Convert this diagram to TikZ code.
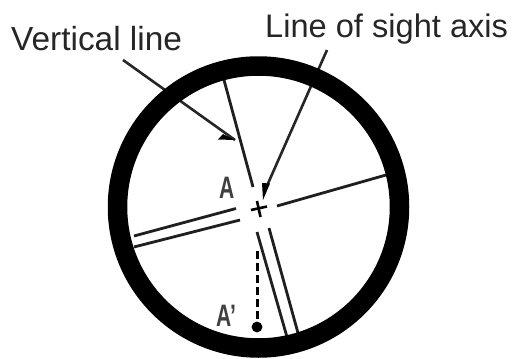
\documentclass[tikz,border=0pt]{standalone}
\usepackage{fontspec}
\setmainfont{Liberation Sans}
\begin{document}
\begin{tikzpicture}[x=1pt,y=-1pt,
  thinline/.style={line width=2.8pt,black!88},
  lbl/.style={inner sep=0pt,anchor=base west,font=\fontsize{33.4}{36}\selectfont,black!85},
  lbltwo/.style={inner sep=0pt,anchor=base west,font=\fontsize{32.6}{36}\selectfont,black!85},
  letter/.style={inner sep=0pt,anchor=base west,font=\fontsize{31}{32}\selectfont\bfseries,xscale=0.68,black!75}]
\useasboundingbox (0,0) rectangle (512,359);
\fill[white] (0,0) rectangle (512,359);
\coordinate (c) at (258.5,207);
% labels
\node[lbl] (vl) at (11,50) {Vertical line};
\node[lbltwo] (ls) at (265,37) {Line of sight axis};
\node[letter] (a) at (219,198) {A};
\node[letter] (ap) at (216,326) {A'};
% cross mark
\coordinate (c1) at (251,210); \coordinate (c2) at (267,206.5);
\coordinate (c3) at (257,201); \coordinate (c4) at (260.5,217);
\draw[line width=2.6pt] (c1) -- (c2);
\draw[line width=2.6pt] (c3) -- (c4);
% vertical line
\coordinate (v1) at (224,80); \coordinate (v2) at (253,187);
\draw[thinline] (v1) -- (v2);
% horizontal lines
\coordinate (h1) at (277,206); \coordinate (h2) at (386,175);
\draw[thinline] (h1) -- (h2);
\coordinate (h3) at (134,236); \coordinate (h4) at (236,208.5);
\draw[thinline] (h3) -- (h4);
\coordinate (h5) at (134,247); \coordinate (h6) at (240,220);
\draw[thinline] (h5) -- (h6);
% bottom double
\coordinate (d1) at (257,232); \coordinate (d2) at (287,337);
\draw[thinline] (d1) -- (d2);
\coordinate (d3) at (269,228); \coordinate (d4) at (298,333);
\draw[thinline] (d3) -- (d4);
% dashed to dot
\coordinate (e1) at (257,251); \coordinate (e2) at (257,325);
\draw[line width=3pt,dash pattern=on 8pt off 4pt] (e1) -- (e2);
\fill (257,327) circle (5.4);
% pointer 1
\coordinate (p1) at (123,60); \coordinate (p2) at (235,140);
\draw[line width=2.6pt,black!85] (p1) -- (p2);
\fill (p2) -- (218,139.5) -- (223,134) -- cycle;
% pointer 2
\coordinate (q1) at (327,50); \coordinate (q2) at (266,188);
\draw[line width=2.6pt,black!85] (q1) -- (q2);
\fill (263,200) -- (262,183) -- (270,183.5) -- cycle;
% ring on top
\draw[line width=19.5pt,black] (c) circle (141);
\end{tikzpicture}
\end{document}
